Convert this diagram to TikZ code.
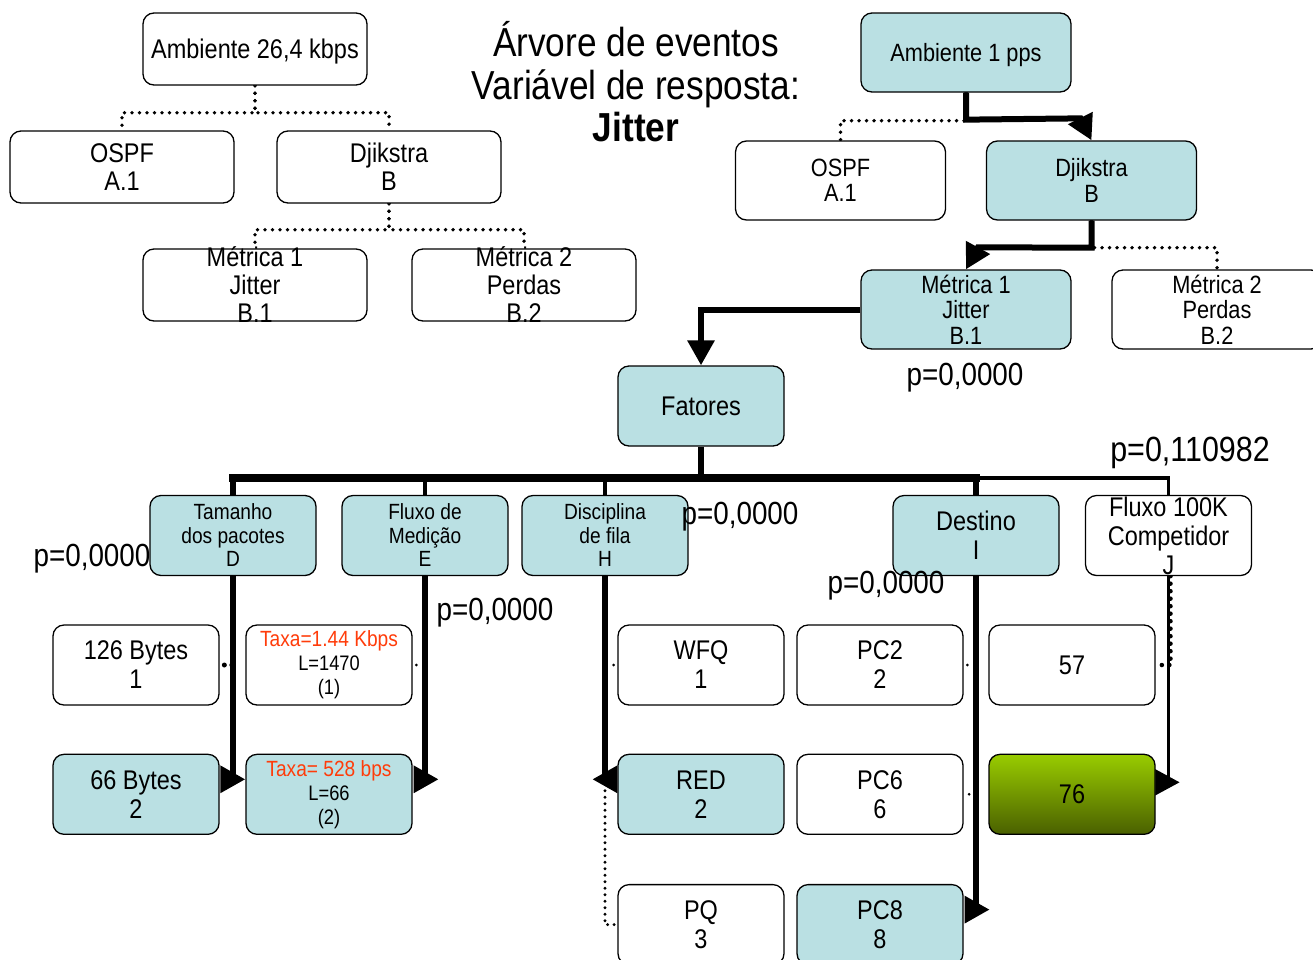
\documentclass[tikz,border=0pt]{standalone}
\usepackage{fontspec}
\setmainfont{Liberation Sans}[FakeStretch=0.87]
\usepackage{xcolor}
\usetikzlibrary{positioning,arrows.meta,backgrounds,calc}

\definecolor{tealbox}{RGB}{186,224,227}
\definecolor{taxared}{RGB}{255,60,10}
\definecolor{limetop}{RGB}{153,204,0}
\definecolor{limebot}{RGB}{74,96,0}

\newcommand{\fsz}[2]{\fontsize{#1}{#2}\selectfont}

\begin{document}
\begin{tikzpicture}[
  x=1pt, y=-1pt,
  box/.style={draw, rounded corners=11pt, line width=1.3pt, fill=white,
              minimum width=166pt, minimum height=80pt,
              inner xsep=0pt, inner ysep=-14pt, align=center, font=\fsz{27}{29}},
  sel/.style={box, fill=tealbox},
  oldtree/.style={minimum width=224pt, minimum height=72pt, font=\fsz{27}{28}},
  newtree/.style={minimum width=210pt, minimum height=79pt, font=\fsz{25}{25.5}},
  small/.style={font=\fsz{22}{23.5}},
  taxa/.style={font=\fsz{21}{24}},
  title/.style={align=center, inner sep=0pt, font=\fsz{40.5}{42.5}},
  pval/.style={inner sep=0pt, font=\fsz{32}{34}},
  heavy/.style={line width=6pt},
  light/.style={line width=3.5pt},
  dots/.style={line width=3.8pt, line cap=round, dash pattern=on 0pt off 7.5pt},
  arr/.style={-{Triangle[length=25pt,width=26pt]}},
  node distance=48pt
]
\useasboundingbox (0,0) rectangle (1313,959);

% title
\node[title] (ttl) at (636,82) {Árvore de eventos\\Variável de resposta:\\\textbf{Jitter}};

% tree for 26,4 kbps
\node[box,oldtree,text depth=0pt] (ambL) at (255,49) {Ambiente 26,4 kbps};
\node[box,oldtree] (ospfL) at (122,167) {OSPF\\A.1};
\node[box,oldtree] (djkL)  at (389,167) {Djikstra\\B};
\node[box,oldtree] (metL1) at (255,285) {Métrica 1\\Jitter\\B.1};
\node[box,oldtree] (metL2) at (524,285) {Métrica 2\\Perdas\\B.2};

% tree for 1 pps
\node[sel,newtree,text depth=-2pt] (ambR) at (966,52.5) {Ambiente 1 pps};
\node[box,newtree] (ospfR) at (840.5,180.5) {OSPF\\A.1};
\node[sel,newtree] (djkR)  at (1091.5,180.5){Djikstra\\B};
\node[sel,newtree] (metR1) at (966,309.5)   {Métrica 1\\Jitter\\B.1};
\node[box,newtree] (metR2) at (1217,309.5)  {Métrica 2\\Perdas\\B.2};

% factors
\node[sel] (fat) at (701,406) {Fatores};
\node[sel,small] (tam) at (233,535.5)  {Tamanho\\dos pacotes\\D};
\node[sel,small] (flu) at (425,535.5)  {Fluxo de\\Medição\\E};
\node[sel,small] (dis) at (605,535.5)  {Disciplina\\de fila\\H};
\node[sel]       (des) at (976,535.5)  {Destino\\I};
\node[box]       (com) at (1168.5,535.5){Fluxo 100K\\Competidor\\J};

% levels
\node[box] (b126) at (136,665)  {126 Bytes\\1};
\node[box,taxa] (tx1) at (329,665)
  {{\color{taxared}\fsz{22}{24}Taxa=1.44 Kbps}\\L=1470\\(1)};
\node[box] (wfq) at (701,665)  {WFQ\\1};
\node[box] (pc2) at (880,665)  {PC2\\2};
\node[box] (n57) at (1072,665) {57};

\node[sel,below=of b126] (b66) {66 Bytes\\2};
\node[sel,taxa,below=of tx1] (tx2)
  {{\color{taxared}\fsz{22}{24}Taxa= 528 bps}\\L=66\\(2)};
\node[sel,below=of wfq] (red) {RED\\2};
\node[box,below=of pc2] (pc6) {PC6\\6};
\node[box,top color=limetop,bottom color=limebot,below=of n57] (n76) {76};
\node[box,below=49pt of red] (pq)  {PQ\\3};
\node[sel,below=49pt of pc6] (pc8) {PC8\\8};

% p-values
\node[pval] (pD) at (92,559)   {p=0,0000};
\node[pval] (pH) at (740,517)  {p=0,0000};
\node[pval] (pI) at (886,586)  {p=0,0000};
\node[pval] (pE) at (495,613)  {p=0,0000};
\node[pval] (pB) at (965,378)  {p=0,0000};
\node[pval,font=\fsz{35}{36}] (pJ) at (1190,453) {p=0,110982};

\begin{scope}[on background layer]
  % 26,4 kbps: no branch taken
  \draw[dots] (ambL.south) -- ++(0,27) -| (ospfL.north);
  \draw[dots] (ambL.south) -- ++(0,27) -| (djkL.north);
  \draw[dots] (djkL.south) -- ++(0,26) -| (metL1.north);
  \draw[dots] (djkL.south) -- ++(0,26) -| (metL2.north);
  % 1 pps
  \draw[dots] (ambR.south) -- ++(0,28) -| (ospfR.north);
  \draw[heavy,arr] (ambR.south) -- ++(0,27) -- ($(djkR.north)+(-11,-22)$) -- (djkR.north);
  \draw[dots] (djkR.south) -- ++(0,27) -| (metR2.north);
  \draw[heavy,arr] (djkR.south) -- ++(0,27) -- ($(metR1.north)+(12,-22)$) -- (metR1.north);
  \draw[heavy,arr] (metR1.west) -| (fat.north);
  % bar of factors
  \coordinate (bar) at (701,478);
  \draw[heavy] (fat.south) -- (bar);
  \draw[line width=8pt,line cap=rect] (tam |- bar) -- (des |- bar);
  \draw[light] (des |- bar) -| (com.north);
  \draw[light] (flu |- bar) -- (flu.north);
  \draw[light] (dis |- bar) -- (dis.north);
  \draw[heavy] (des |- bar) -- (des.north);
  % chosen levels
  \draw[dots,line width=5pt] (tam.south) |- (b126.east);
  \draw[heavy,arr] (tam |- bar) |- ($(tx2.west)+(0,-15)$);
  \draw[dots,line width=3pt] (flu.south) |- (tx1.east);
  \draw[heavy,arr] (flu.south) |- ($(tx2.east)+(26,-15)$);
  \draw[dots,line width=3pt] (dis.south) |- (wfq.west);
  \draw[dots,line width=3.2pt,dash pattern=on 0pt off 6.5pt] (dis.south) |- (pq.west);
  \draw[heavy,arr] (dis.south) |- ($(red.west)+(-25,-15)$);
  \draw[dots,line width=3pt] (des.south) |- (pc2.east);
  \draw[dots,line width=3pt] (des.south) |- (pc6.east);
  \draw[heavy,arr] (des.south) |- ($(pc8.east)+(26,-15)$);
  \draw[dots,line width=4.5pt] ([xshift=2pt]com.south) |- (n57.east);
  \draw[light,arr] (com.south) |- ($(n76.east)+(24,-12)$);
\end{scope}
\end{tikzpicture}
\end{document}
